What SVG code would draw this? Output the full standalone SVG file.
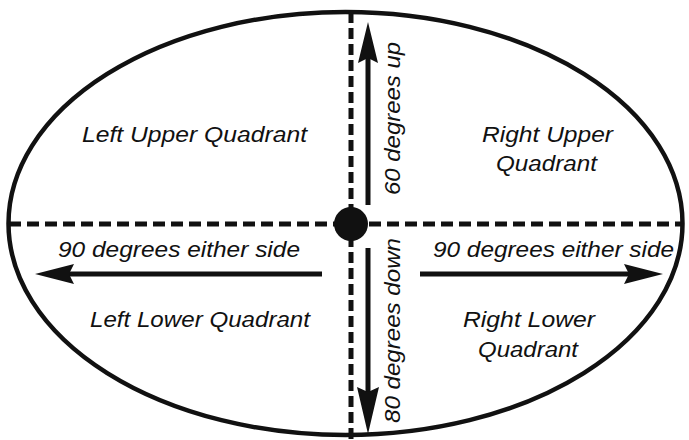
<svg xmlns="http://www.w3.org/2000/svg" width="689" height="440" viewBox="0 0 689 440">
<style>
.lbl{font-family:"Liberation Sans",Arial,sans-serif;font-style:italic;font-size:22px;fill:#111}
.dash{stroke:#111;stroke-width:5;fill:none}
.arr{stroke:#111;stroke-width:5;fill:none}
.head{fill:#111}
</style>
<rect width="689" height="440" fill="#fff"/>
<g id="outline">
<ellipse cx="345.5" cy="223.5" rx="337" ry="211.5" fill="none" stroke="#111" stroke-width="4.5"/>
</g>
<g id="connectors">
<line class="dash" x1="351" y1="12" x2="351" y2="440" stroke-dasharray="11 5"/>
<line class="dash" x1="9" y1="224" x2="682" y2="224" stroke-dasharray="12 6"/>
<line class="arr" x1="368" y1="205" x2="368" y2="55"/>
<polygon class="head" points="368,22 358,63 368,58 378,63"/>
<line class="arr" x1="368" y1="248" x2="368" y2="395"/>
<polygon class="head" points="368,434 357,387 368,392 379,387"/>
<line class="arr" x1="322" y1="274" x2="68" y2="274"/>
<polygon class="head" points="35,274 74,264 69,274 74,284"/>
<line class="arr" x1="420" y1="274" x2="630" y2="274"/>
<polygon class="head" points="663,274 624,264 629,274 624,284"/>
</g>
<g id="center">
<circle cx="351" cy="224" r="17" fill="#111"/>
</g>
<g id="left-upper">
<text class="lbl" x="82" y="142" textLength="225" lengthAdjust="spacingAndGlyphs">Left Upper Quadrant</text>
</g>
<g id="right-upper">
<text class="lbl" x="482" y="142" textLength="131" lengthAdjust="spacingAndGlyphs">Right Upper</text>
<text class="lbl" x="496" y="171" textLength="101" lengthAdjust="spacingAndGlyphs">Quadrant</text>
</g>
<g id="left-lower">
<text class="lbl" x="90" y="327" textLength="220" lengthAdjust="spacingAndGlyphs">Left Lower Quadrant</text>
</g>
<g id="right-lower">
<text class="lbl" x="463" y="327" textLength="132" lengthAdjust="spacingAndGlyphs">Right Lower</text>
<text class="lbl" x="478" y="357" textLength="100" lengthAdjust="spacingAndGlyphs">Quadrant</text>
</g>
<g id="left-side">
<text class="lbl" x="58" y="257" textLength="242" lengthAdjust="spacingAndGlyphs">90 degrees either side</text>
</g>
<g id="right-side">
<text class="lbl" x="433" y="257" textLength="241" lengthAdjust="spacingAndGlyphs">90 degrees either side</text>
</g>
<g id="up-label">
<text class="lbl" transform="translate(400,195) rotate(-90)" x="0" y="0" textLength="153" lengthAdjust="spacingAndGlyphs">60 degrees up</text>
</g>
<g id="down-label">
<text class="lbl" transform="translate(400,423) rotate(-90)" x="0" y="0" textLength="185" lengthAdjust="spacingAndGlyphs">80 degrees down</text>
</g>
</svg>
